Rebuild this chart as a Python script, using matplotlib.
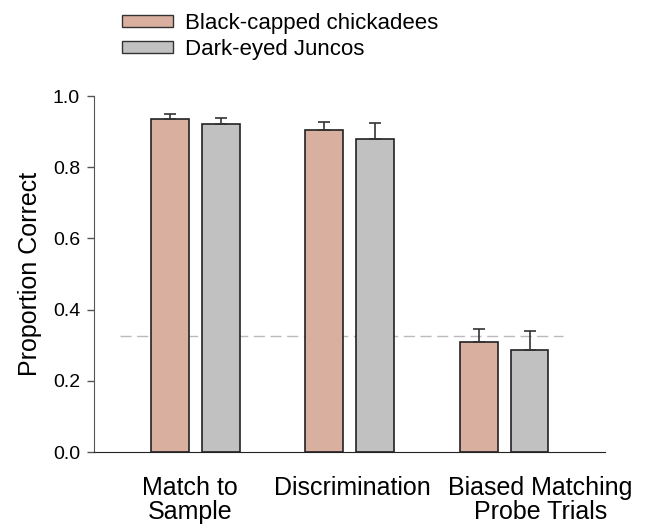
import matplotlib
matplotlib.use("Agg")
import matplotlib.pyplot as plt
from matplotlib.patches import Patch
import numpy as np

plt.rcParams['font.family'] = ['Liberation Sans', 'DejaVu Sans']

categories = ["Match to\nSample", "Discrimination", "Biased Matching\nProbe Trials"]
chickadee_mean = [0.935, 0.905, 0.309]
chickadee_err = [0.014, 0.022, 0.037]
junco_mean = [0.921, 0.879, 0.287]
junco_err = [0.018, 0.045, 0.053]
chance_level = 0.326

chick_color = "#D9AFA0"
junco_color = "#C1C1C1"

fig = plt.figure(figsize=(6.51, 5.28), dpi=100)
ax = fig.add_axes([0.1444, 0.1439, 0.7846, 0.6742])

x = np.arange(len(categories))
w = 0.245
off = 0.165

ax.bar(x - off, chickadee_mean, w, color=chick_color, edgecolor="#222222", linewidth=1.2)
ax.bar(x + off, junco_mean, w, color=junco_color, edgecolor="#222222", linewidth=1.2)
ax.errorbar(x - off, chickadee_mean, yerr=[np.zeros(3), chickadee_err], fmt="none",
            ecolor="#333333", elinewidth=1.2, capsize=4, capthick=1.2)
ax.errorbar(x + off, junco_mean, yerr=[np.zeros(3), junco_err], fmt="none",
            ecolor="#333333", elinewidth=1.2, capsize=4, capthick=1.2)

# chance line
ax.plot([-0.487, 2.384], [chance_level, chance_level], ls=(0, (8, 4)), color="#bbbbbb", lw=1, zorder=0.5)

ax.set_xlim(-0.655, 2.652)
ax.set_ylim(0, 1.0)
ax.set_yticks(np.arange(0, 1.01, 0.2))
ax.set_yticklabels([f"{v:.1f}" for v in np.arange(0, 1.01, 0.2)], fontsize=14)
# category labels sit slightly off the group centres (last one pushed right)
ax.set_xticks([-0.035, 1.016, 2.235])
ax.set_xticklabels(categories, fontsize=18, linespacing=1.0)
ax.tick_params(axis="x", length=0, pad=17)
ax.tick_params(axis="y", length=5, width=1, color="#555555", direction="out", pad=5)
ax.spines["top"].set_visible(False)
ax.spines["right"].set_visible(False)
ax.spines["left"].set_color("#555555")
ax.spines["bottom"].set_color("#222222")
ax.set_ylabel("Proportion Correct", fontsize=18, labelpad=8)

handles = [Patch(facecolor=chick_color, edgecolor="#333333", label="Black-capped chickadees"),
           Patch(facecolor=junco_color, edgecolor="#333333", label="Dark-eyed Juncos")]
fig.legend(handles=handles, loc="upper left", bbox_to_anchor=(0.1874, 0.976), frameon=False,
           borderpad=0, borderaxespad=0,
           fontsize=16, handlelength=2.3, handleheight=0.45, labelspacing=0.25, handletextpad=0.55)

fig.savefig("out.png", dpi=100)
